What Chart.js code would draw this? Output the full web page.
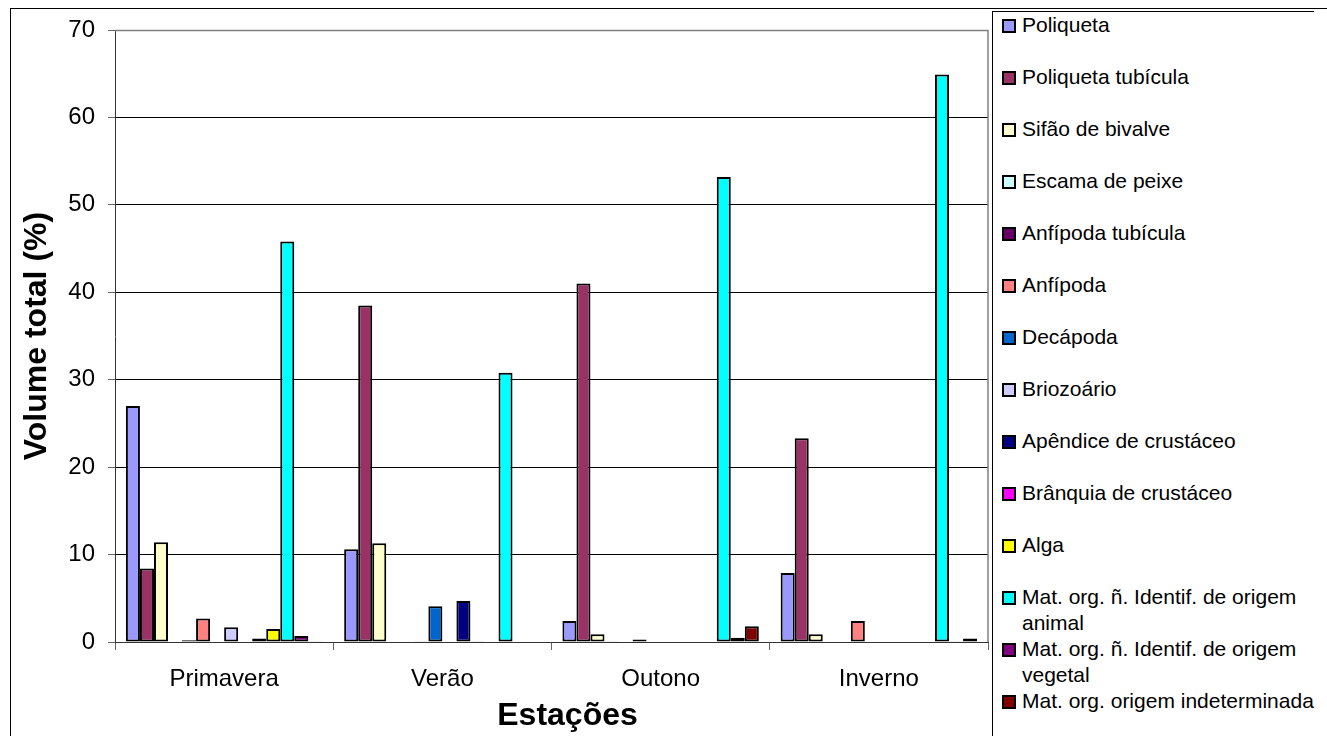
<!DOCTYPE html>
<html>
<head>
<meta charset="utf-8">
<script src="https://cdn.jsdelivr.net/npm/chart.js@4"></script>
<style>
  body { margin: 0; background: #fff; }
  #wrap { position: relative; width: 1327px; height: 736px; overflow: hidden; background: #fff; font-family: "Liberation Sans", Arial, sans-serif; }
  .frame { position: absolute; left: 10px; top: 8px; width: 1400px; height: 800px; border-left: 1.5px solid #000; border-top: 1.5px solid #000; }
  #chart { position: absolute; left: 0; top: 0; }
  .legend { position: absolute; left: 992px; top: 11px; width: 321px; height: 800px; border-left: 1.5px solid #000; border-top: 1.5px solid #000; background: #fff; }
  .legend-item { display: flex; align-items: flex-start; width: 335px; height: 52px; padding-left: 9px; }
  .legend-box { width: 14px; height: 14px; box-sizing: border-box; border: 2px solid #000; margin-top: 6.5px; margin-right: 6px; flex: none; }
  .legend-label { width: 305px; font-size: 21px; line-height: 26px; color: #000; }
</style>
</head>
<body>
<div id="wrap">
  <div class="frame"></div>
  <canvas id="chart" width="990" height="736"></canvas>
  <div id="legend" class="legend"></div>
</div>
<script>
// ===== DATA =====
const seasons = ['Primavera', 'Verão', 'Outono', 'Inverno'];

const poliqueta          = [27.0, 10.6,  2.4,  7.9];
const poliquetaTubicula  = [ 8.4, 38.5, 41.0, 23.3];
const sifaoBivalve       = [11.4, 11.3,  0.9,  0.9];
const escamaPeixe        = [ 0,    0,    0.1,  0  ];
const anfipodaTubicula   = [ 0.2,  0,    0,    0  ];
const anfipoda           = [ 2.7,  0.1,  0.3,  2.4];
const decapoda           = [ 0,    4.1,  0,    0  ];
const briozoario         = [ 1.7,  0,    0,    0  ];
const apendiceCrustaceo  = [ 0,    4.7,  0,    0  ];
const branquiaCrustaceo  = [ 0.4,  0.1,  0,    0  ];
const alga               = [ 1.5,  0,    0,    0  ];
const matOrgAnimal       = [45.8, 30.8, 53.2, 64.9];
const matOrgVegetal      = [ 0.7,  0,    0.5,  0.1];
const matOrgIndeterminada = [0.1,  0,    1.8,  0.4];

const seriesNames = [
  'Poliqueta', 'Poliqueta tubícula', 'Sifão de bivalve', 'Escama de peixe',
  'Anfípoda tubícula', 'Anfípoda', 'Decápoda', 'Briozoário',
  'Apêndice de crustáceo', 'Brânquia de crustáceo', 'Alga',
  'Mat. org. ñ. Identif. de origem animal',
  'Mat. org. ñ. Identif. de origem vegetal',
  'Mat. org. origem indeterminada'
];
const seriesValues = [
  poliqueta, poliquetaTubicula, sifaoBivalve, escamaPeixe,
  anfipodaTubicula, anfipoda, decapoda, briozoario,
  apendiceCrustaceo, branquiaCrustaceo, alga,
  matOrgAnimal, matOrgVegetal, matOrgIndeterminada
];
const seriesColors = [
  '#9999FF', '#993366', '#FFFFCC', '#CCFFFF',
  '#660066', '#FF8080', '#0066CC', '#CCCCFF',
  '#000080', '#FF00FF', '#FFFF00',
  '#00FFFF', '#800080', '#800000'
];

const yMin = 0, yMax = 70, yStep = 10;
const xTitle = 'Estações';
const yTitle = 'Volume total (%)';

const font = 'Liberation Sans, Arial, sans-serif';

// ===== PLOT FRAME (grey top/right edge) + x title =====
const plotFrame = {
  id: 'plotFrame',
  beforeDatasetsDraw(chart) {
    const { ctx, chartArea: a } = chart;
    ctx.save();
    ctx.strokeStyle = '#808080';
    ctx.lineWidth = 1.5;
    ctx.beginPath();
    ctx.moveTo(a.left, a.top + 0.5);
    ctx.lineTo(a.right, a.top + 0.5);
    ctx.lineTo(a.right, a.bottom);
    ctx.stroke();
    ctx.restore();
  },
  afterDraw(chart) {
    // Excel centres this title a bit right of the plot centre
    const { ctx, chartArea: a } = chart;
    ctx.save();
    ctx.font = `bold 32px ${font}`;
    ctx.fillStyle = '#000';
    ctx.textAlign = 'center';
    ctx.textBaseline = 'middle';
    ctx.fillText(xTitle, (a.left + a.right) / 2 + 16, a.bottom + 74);
    ctx.restore();
  }
};

// ===== CHART =====
new Chart(document.getElementById('chart'), {
  type: 'bar',
  data: {
    labels: seasons,
    datasets: seriesNames.map((name, i) => ({
      label: name,
      data: seriesValues[i],
      backgroundColor: seriesColors[i],
      borderColor: '#000',
      borderWidth: 2,
      borderSkipped: false,
      categoryPercentage: 0.9,
      barPercentage: 1
    }))
  },
  options: {
    responsive: false,
    animation: false,
    layout: { padding: { top: 30, right: 2, left: 0, bottom: 0 } },
    plugins: { legend: { display: false }, tooltip: { enabled: false } },
    scales: {
      x: {
        afterFit: s => { s.height = 94; },
        grid: { drawOnChartArea: false, drawTicks: true, tickLength: 8, tickColor: '#666', offset: true },
        border: { color: '#333', width: 1 },
        ticks: { color: '#000', font: { family: font, size: 24 }, padding: 15 }
      },
      y: {
        min: yMin, max: yMax,
        afterFit: s => { s.width = 115; },
        grid: { color: '#000', lineWidth: 1, tickLength: 7, tickColor: '#666' },
        border: { color: '#333', width: 1 },
        ticks: { stepSize: yStep, color: '#000', font: { family: font, size: 24 }, padding: 13 },
        title: { display: true, text: yTitle, color: '#000', font: { family: font, size: 32, weight: 'bold', lineHeight: 1.2 }, padding: { top: 18, bottom: 0 } }
      }
    }
  },
  plugins: [plotFrame]
});

// ===== LEGEND =====
document.getElementById('legend').innerHTML = seriesNames.map((name, i) =>
  `<div class="legend-item">
    <div class="legend-box" style="background:${seriesColors[i]}"></div>
    <span class="legend-label">${name}</span>
  </div>`
).join('');
</script>
</body>
</html>
